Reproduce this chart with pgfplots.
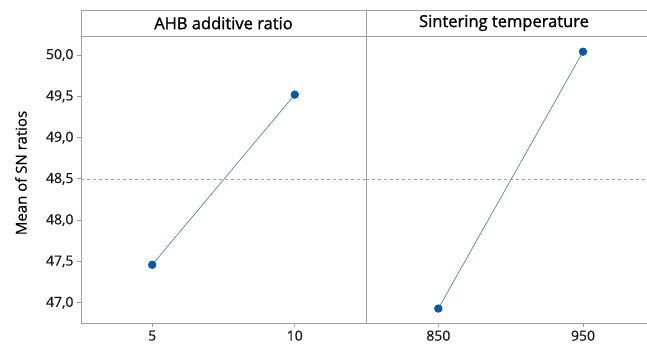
\documentclass[border=0pt]{standalone}
\usepackage{pgfplots}
\pgfplotsset{compat=1.18}
\usepackage{fontspec}
\setmainfont{Open Sans}
\newfontfamily\hdrfont[FakeBold=1.2]{Open Sans}
\newfontfamily\tickfont[FakeBold=0.4]{Open Sans}
\definecolor{axgray}{HTML}{A0A0A0}
\definecolor{ptblue}{HTML}{0B57A8}
\definecolor{lnblue}{HTML}{4F86C6}
\pgfplotsset{
  panel/.style={
    scale only axis, width=285pt, height=287pt,
    anchor=south west,
    xmin=0.5, xmax=2.5, ymin=46.755, ymax=50.23,
    axis x line=bottom, axis y line=left,
    axis line style={axgray, line width=0.8pt, -},
    xtick={1,2},
    ytick={47,47.5,...,50},
    tick style={axgray, line width=0.8pt},
    major tick length=4pt,
    tick align=outside,
    ticklabel style={font=\tickfont\fontsize{14}{16}\selectfont, text=black!90},
    /pgf/number format/assume math mode=true,
    /pgf/number format/use comma,
    /pgf/number format/fixed,
    /pgf/number format/fixed zerofill,
    /pgf/number format/precision=1,
    clip=false,
  }
}
\begin{document}
\begin{tikzpicture}[x=1pt,y=1pt]
\useasboundingbox (0,0) rectangle (647,347);
\begin{axis}[panel, at={(81pt,24pt)},
  xticklabels={5,10},
]
\addplot[axgray, dashed, line width=0.7pt, forget plot] coordinates {(0.5,48.49) (2.5,48.49)};
\addplot[lnblue, line width=0.7pt, mark=*, mark size=3.8pt, mark options={fill=ptblue, draw=ptblue}] coordinates {(1,47.46) (2,49.52)};
\end{axis}
\begin{axis}[panel, at={(366pt,24pt)},
  xmax=2.47,
  xticklabels={850,950},
  yticklabels={}, ytick style={draw=none},
]
\addplot[axgray, dashed, line width=0.7pt, forget plot] coordinates {(0.5,48.49) (2.47,48.49)};
\addplot[lnblue, line width=0.7pt, mark=*, mark size=3.8pt, mark options={fill=ptblue, draw=ptblue}] coordinates {(1,46.93) (2,50.04)};
\end{axis}
\draw[axgray, line width=0.8pt] (81,337) -- (647,337);
\draw[axgray, line width=0.8pt] (81,311) -- (647,311);
\draw[axgray, line width=0.8pt] (81,337) -- (81,311);
\draw[axgray, line width=0.8pt] (366,337) -- (366,24);
\node[font=\hdrfont\fontsize{16.5}{18}\selectfont] at (223.5,324) {AHB additive ratio};
\node[font=\hdrfont\fontsize{16.5}{18}\selectfont] at (504,324) {Sintering temperature};
\node[rotate=90, font=\tickfont\fontsize{15}{17}\selectfont] at (21,174) {Mean of SN ratios};
\end{tikzpicture}
\end{document}
